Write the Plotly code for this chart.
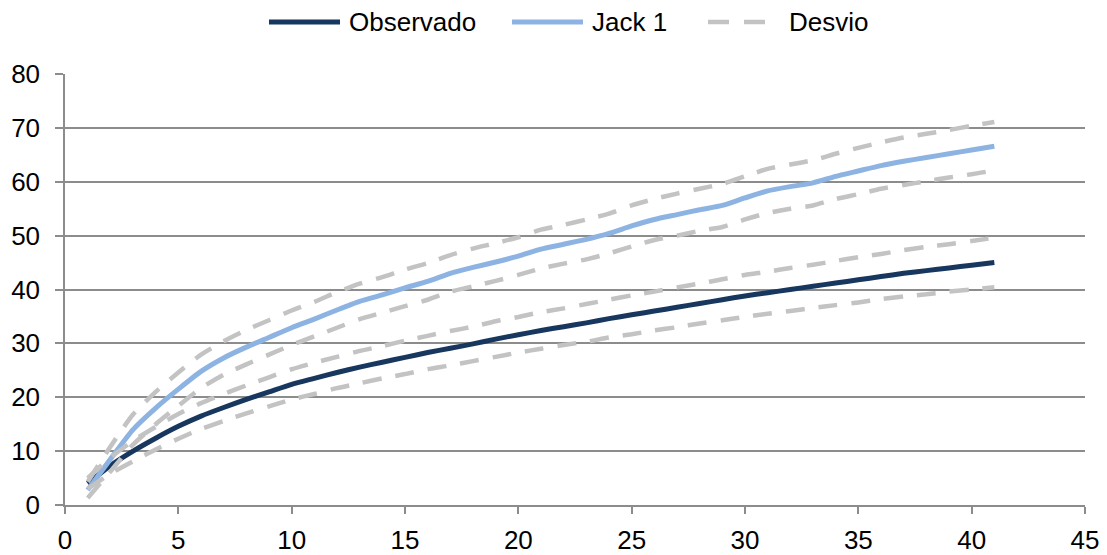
import plotly.graph_objects as go

# Number of samples (x axis)
amostras = list(range(1, 42))

# Observed accumulation curve
observado = [4.0, 7.3, 10.0, 12.4, 14.6, 16.5, 18.1, 19.6, 21.0, 22.4,
             23.5, 24.6, 25.6, 26.5, 27.4, 28.3, 29.1, 29.9, 30.8, 31.6,
             32.4, 33.1, 33.8, 34.6, 35.3, 36.0, 36.7, 37.4, 38.1, 38.8,
             39.4, 40.0, 40.6, 41.2, 41.8, 42.4, 43.0, 43.5, 44.0, 44.5, 45.0]

# Jackknife 1 estimator
jack1 = [2.8, 8.5, 14.0, 18.0, 21.5, 24.8, 27.3, 29.3, 31.1, 32.9,
         34.5, 36.2, 37.8, 39.0, 40.3, 41.5, 43.0, 44.1, 45.1, 46.2,
         47.5, 48.4, 49.3, 50.4, 51.8, 53.0, 53.9, 54.8, 55.6, 57.0,
         58.3, 59.1, 59.8, 61.0, 62.0, 63.0, 63.8, 64.5, 65.2, 65.9, 66.6]

# Deviation bounds (upper / lower) for each curve
obs_sup = [5.0, 8.8, 11.9, 14.5, 16.9, 18.9, 20.6, 22.2, 23.7, 25.2,
           26.4, 27.5, 28.6, 29.5, 30.5, 31.4, 32.3, 33.1, 34.1, 34.9,
           35.8, 36.5, 37.3, 38.1, 38.9, 39.6, 40.4, 41.1, 41.9, 42.7,
           43.3, 44.0, 44.6, 45.3, 46.0, 46.6, 47.3, 47.9, 48.4, 49.0, 49.6]
obs_inf = [3.0, 5.8, 8.1, 10.3, 12.3, 14.1, 15.6, 17.0, 18.3, 19.6,
           20.6, 21.7, 22.6, 23.5, 24.3, 25.2, 25.9, 26.7, 27.5, 28.3,
           29.0, 29.7, 30.3, 31.1, 31.7, 32.4, 33.0, 33.7, 34.3, 34.9,
           35.5, 36.0, 36.6, 37.1, 37.6, 38.2, 38.7, 39.1, 39.6, 40.0, 40.4]
jack_sup = [4.3, 10.8, 16.8, 21.0, 24.6, 27.9, 30.4, 32.5, 34.3, 36.1,
            37.7, 39.5, 41.1, 42.3, 43.7, 44.9, 46.4, 47.6, 48.6, 49.7,
            51.1, 52.0, 53.0, 54.1, 55.6, 56.8, 57.8, 58.7, 59.6, 61.0,
            62.4, 63.2, 64.0, 65.2, 66.3, 67.3, 68.2, 68.9, 69.6, 70.4, 71.1]
jack_inf = [1.3, 6.2, 11.2, 15.0, 18.4, 21.7, 24.2, 26.1, 27.9, 29.7,
            31.3, 32.9, 34.5, 35.7, 36.9, 38.1, 39.6, 40.6, 41.6, 42.7,
            43.9, 44.8, 45.6, 46.7, 48.0, 49.2, 50.0, 50.9, 51.6, 53.0,
            54.2, 55.0, 55.6, 56.8, 57.7, 58.7, 59.4, 60.1, 60.8, 61.4, 62.1]

COR_OBS = "#17375E"
COR_JACK = "#8DB3E2"
COR_DESVIO = "#C3C3C3"
GRADE = "#8C8C8C"
FONTE = "Liberation Sans, Arial, sans-serif"
TAM = 26
TRACO = "19px,14px"

fig = go.Figure()

fig.add_trace(go.Scatter(
    x=amostras, y=observado, mode="lines", name="Observado",
    line=dict(color=COR_OBS, width=5, shape="spline", smoothing=0.6),
))
fig.add_trace(go.Scatter(
    x=amostras, y=jack1, mode="lines", name="Jack 1",
    line=dict(color=COR_JACK, width=5, shape="spline", smoothing=0.6),
))

for serie in [jack_sup, jack_inf, obs_sup, obs_inf]:
    fig.add_trace(go.Scatter(
        x=amostras, y=serie, mode="lines", name="Desvio",
        line=dict(color=COR_DESVIO, width=4.5, dash=TRACO,
                  shape="spline", smoothing=0.6),
    ))

# Legend drawn above the plot area in paper coordinates
# (plot area spans 1020 px horizontally and 431 px vertically)
def px_x(p):
    return (p - 65) / 1020.0

def px_y(p):
    return (505 - p) / 431.0

legenda = [
    ("Observado", COR_OBS, None, 269, 340, 347),
    ("Jack 1", COR_JACK, None, 512, 583, 590),
    ("Desvio", COR_DESVIO, "dash", 708, 765, 787),
]
ly = px_y(22)
for texto, cor, estilo, x0, x1, xt in legenda:
    fig.add_shape(
        type="line", xref="paper", yref="paper",
        x0=px_x(x0), x1=px_x(x1), y0=ly, y1=ly,
        line=dict(color=cor, width=5 if estilo is None else 4.5,
                  dash="solid" if estilo is None else "21px,15px"),
    )
    fig.add_annotation(
        x=px_x(xt), y=ly, xref="paper", yref="paper",
        text=texto, showarrow=False, xanchor="left", yanchor="middle",
        font=dict(family=FONTE, size=TAM, color="#000000"),
    )

fig.update_layout(
    width=1107, height=555,
    margin=dict(l=65, r=22, t=74, b=50, autoexpand=False),
    plot_bgcolor="white", paper_bgcolor="white",
    font=dict(family=FONTE, size=TAM, color="#000000"),
    showlegend=False,
    xaxis=dict(
        range=[0, 45], tick0=0, dtick=5,
        showgrid=False, zeroline=False, automargin=False,
        showline=True, linecolor=GRADE, linewidth=1.5,
        ticks="outside", ticklen=7, tickcolor=GRADE, tickwidth=1.5,
        tickfont=dict(size=TAM), ticklabelstandoff=4,
    ),
    yaxis=dict(
        range=[0, 80], tick0=0, dtick=10,
        showgrid=True, gridcolor=GRADE, gridwidth=1.5,
        zeroline=False, automargin=False,
        showline=True, linecolor=GRADE, linewidth=1.5,
        ticks="outside", ticklen=8, tickcolor=GRADE, tickwidth=1.5,
        tickfont=dict(size=TAM), ticklabelstandoff=10,
    ),
)

fig.write_html("out.html")
